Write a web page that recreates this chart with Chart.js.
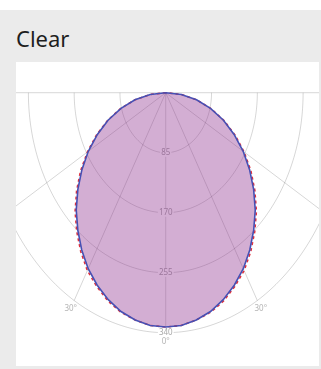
<!DOCTYPE html>
<html>
<head>
<meta charset="utf-8">
<script src="https://cdn.jsdelivr.net/npm/chart.js@4/dist/chart.umd.min.js"></script>
<style>
  html, body { margin: 0; padding: 0; background: #ffffff; }
  body { width: 321px; height: 369px; position: relative; overflow: hidden; font-family: "Noto Sans", sans-serif; }
  .card { position: absolute; left: 0; top: 10px; width: 321px; height: 359px; background: #ebebeb; }
  .title { position: absolute; left: 16px; top: 27px; font-size: 22px; line-height: 22px; color: #1e1e1e; }
  .panel { position: absolute; left: 16px; top: 62px; width: 303px; height: 304px; background: #ffffff; }
  #chart { position: absolute; left: 16px; top: 62px; }
</style>
</head>
<body>
<div class="card"></div>
<div class="title">Clear</div>
<div class="panel"></div>
<canvas id="chart" width="303" height="304"></canvas>
<script>
// Luminous intensity (cd/klm) per gamma angle, one half-plane each (symmetric luminaire)
const gammaAngles = [0, 5, 10, 15, 20, 25, 30, 35, 40, 45, 50, 55, 60, 65, 70, 75, 80, 85, 90];
const planeC90C270 = [332, 331, 327, 321, 312, 301, 288, 272, 254, 235, 213, 190, 166, 140, 114, 86, 58, 29, 0];
const planeC0C180  = [332, 331, 327, 322, 314, 303, 291, 275, 257, 238, 216, 193, 168, 142, 115, 87, 58, 29, 0];

// Polar grid
const ringValues = [85, 170, 255, 340];
const spokeAngles = [-90, -60, -30, 0, 30, 60, 90];
const angleLabels = ['90°', '60°', '30°', '0°', '30°', '60°', '90°'];

const rad = d => d * Math.PI / 180;
const toXY = (r, deg) => ({ x: r * Math.sin(rad(deg)), y: -r * Math.cos(rad(deg)) });

// Full curve: from 90° on the left through 0° (nadir) to 90° on the right
function curve(values) {
  const pts = [];
  for (let i = gammaAngles.length - 1; i >= 0; i--) pts.push(toXY(values[i], -gammaAngles[i]));
  for (let i = 1; i < gammaAngles.length; i++) pts.push(toXY(values[i], gammaAngles[i]));
  return pts;
}

const gridColor = 'rgba(0,0,0,0.16)';
const fillColor = 'rgba(135,35,135,0.37)';

const polarGrid = {
  id: 'polarGrid',
  beforeDatasetsDraw(chart) {
    const { ctx, chartArea: a, scales: { x, y } } = chart;
    const px = (r, deg) => {
      const p = toXY(r, deg);
      return [x.getPixelForValue(p.x), y.getPixelForValue(p.y)];
    };
    const outer = ringValues[ringValues.length - 1];
    ctx.save();
    ctx.beginPath();
    ctx.rect(a.left, a.top, a.right - a.left, a.bottom - a.top);
    ctx.clip();

    ctx.strokeStyle = gridColor;
    ctx.lineWidth = 1;
    // rings
    for (const r of ringValues) {
      ctx.beginPath();
      for (let d = -90; d <= 90; d += 1) {
        const [qx, qy] = px(r, d);
        if (d === -90) ctx.moveTo(qx, qy); else ctx.lineTo(qx, qy);
      }
      ctx.stroke();
    }
    // spokes
    const [ox, oy] = px(0, 0);
    for (const d of spokeAngles) {
      const [qx, qy] = px(outer, d);
      ctx.beginPath();
      ctx.moveTo(ox, oy);
      ctx.lineTo(qx, qy);
      ctx.stroke();
    }

    // ring value labels along the nadir axis
    ctx.font = '8px "Noto Sans", sans-serif';
    ctx.textAlign = 'center';
    ctx.textBaseline = 'middle';
    for (const r of ringValues) {
      const [lx, ly] = px(r, 0);
      const label = String(r);
      const w = ctx.measureText(label).width;
      ctx.fillStyle = '#ffffff';
      ctx.fillRect(lx - w / 2 - 1, ly - 4, w + 2, 8);
      ctx.fillStyle = '#a8a8a8';
      ctx.fillText(label, lx, ly);
    }
    // angle labels just outside the outer ring
    ctx.fillStyle = '#b4b4b4';
    spokeAngles.forEach((d, i) => {
      const [lx, ly] = px(outer + 13, d);
      ctx.fillText(angleLabels[i], lx, ly);
    });

    // filled distribution body (under the outlines)
    const meta = chart.getDatasetMeta(0);
    ctx.beginPath();
    meta.data.forEach((p, i) => { if (i === 0) ctx.moveTo(p.x, p.y); else ctx.lineTo(p.x, p.y); });
    ctx.closePath();
    ctx.fillStyle = fillColor;
    ctx.fill();
    ctx.restore();
  }
};

new Chart(document.getElementById('chart'), {
  type: 'scatter',
  data: {
    datasets: [
      {
        label: 'C90-C270',
        data: curve(planeC90C270),
        showLine: true,
        borderColor: '#4650b4',
        borderWidth: 1.6,
        pointRadius: 0,
        tension: 0,
        fill: false
      },
      {
        label: 'C0-C180',
        data: curve(planeC0C180),
        showLine: true,
        borderColor: '#e0303c',
        borderWidth: 1.6,
        borderDash: [3, 3],
        pointRadius: 0,
        tension: 0,
        fill: false
      }
    ]
  },
  options: {
    responsive: false,
    animation: false,
    layout: { padding: 0 },
    plugins: { legend: { display: false }, tooltip: { enabled: false } },
    scales: {
      x: { type: 'linear', min: -278, max: 284.5, display: false },
      y: { type: 'linear', min: -387.2, max: 43.5, display: false }
    }
  },
  plugins: [polarGrid]
});
</script>
</body>
</html>
